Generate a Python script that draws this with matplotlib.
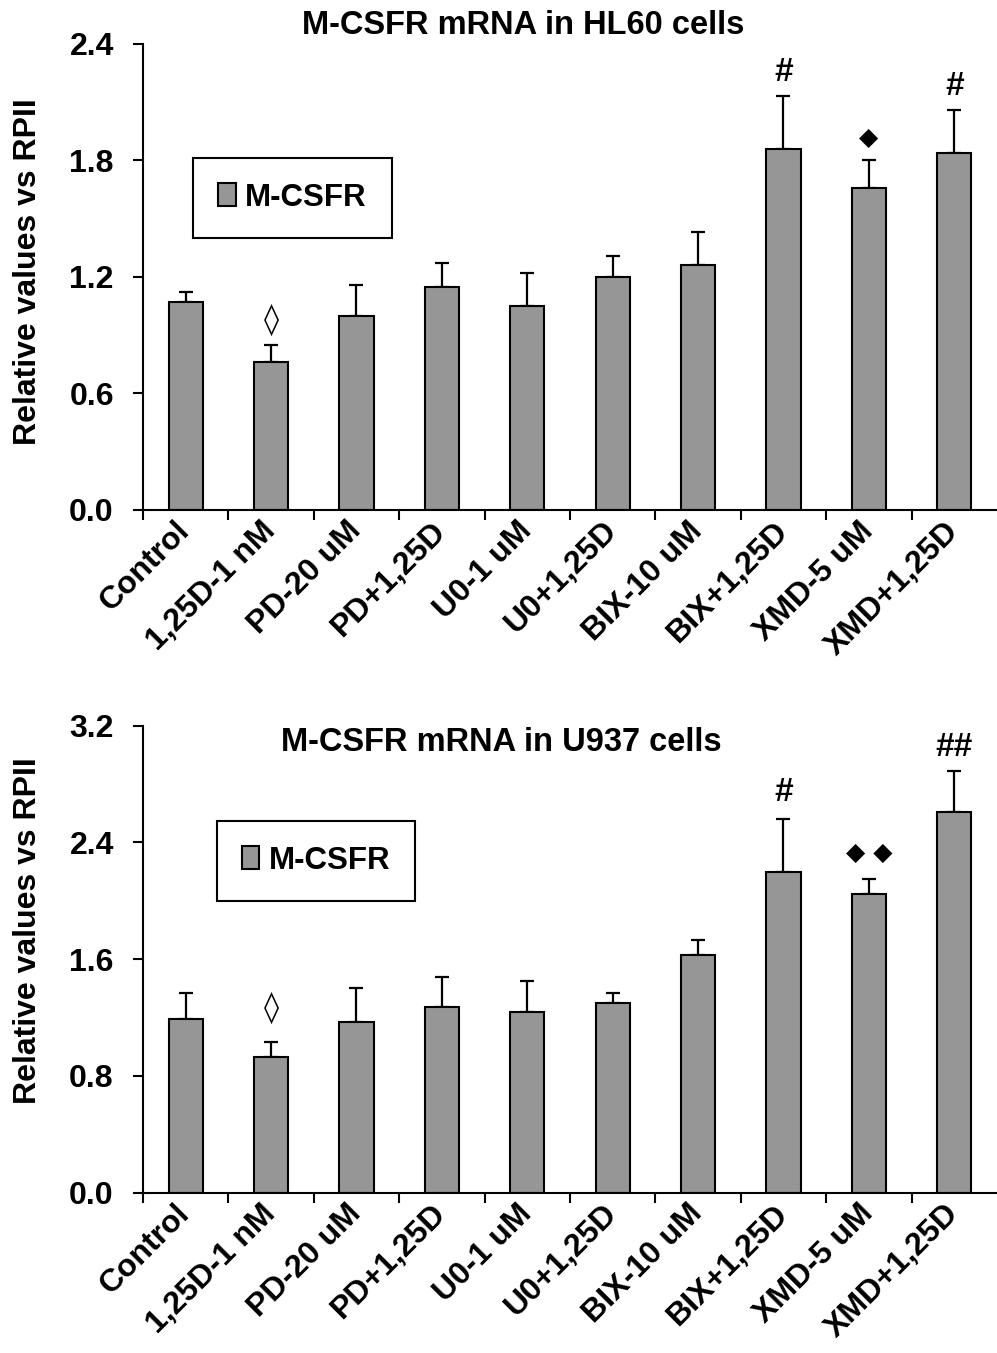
"""
M-CSFR mRNA bar charts for HL60 and U937 cells (relative to RPII).
"""

import numpy as np
import matplotlib
matplotlib.use("Agg")
import matplotlib.pyplot as plt
from matplotlib.patches import Patch

# categories shared by both panels
categories = ["Control", "1,25D-1 nM", "PD-20 uM", "PD+1,25D", "U0-1 uM",
              "U0+1,25D", "BIX-10 uM", "BIX+1,25D", "XMD-5 uM", "XMD+1,25D"]

# HL60 panel
hl60_values = [1.07, 0.76, 1.00, 1.15, 1.05, 1.20, 1.26, 1.86, 1.66, 1.84]
hl60_sem = [0.05, 0.09, 0.16, 0.12, 0.17, 0.11, 0.17, 0.27, 0.14, 0.22]
hl60_marks = ["", "\u25CA", "", "", "", "", "", "#", "\u25C6", "#"]

# U937 panel
u937_values = [1.19, 0.93, 1.17, 1.27, 1.24, 1.30, 1.63, 2.20, 2.05, 2.61]
u937_sem = [0.18, 0.10, 0.23, 0.21, 0.21, 0.07, 0.10, 0.36, 0.10, 0.28]
u937_marks = ["", "\u25CA", "", "", "", "", "", "#", "\u25C6 \u25C6", "##"]

BAR_COLOR = "#969696"
FONT = ["Liberation Sans", "DejaVu Sans"]

plt.rcParams["font.family"] = FONT
plt.rcParams["font.weight"] = "bold"


def draw_panel(ax, values, sem, marks, ymax, step, title, title_x, title_y,
               legend_pos, mark_offsets):
    x = np.arange(len(categories))
    ax.bar(x, values, width=0.4, color=BAR_COLOR, edgecolor="black",
           linewidth=1.5, zorder=2)
    ax.errorbar(x, values, yerr=[np.zeros(len(sem)), sem], fmt="none",
                ecolor="black", elinewidth=1.6, capsize=5, capthick=1.6,
                zorder=1)

    for i, m in enumerate(marks):
        if not m:
            continue
        is_hash = m.startswith("#")
        if is_hash:
            fs = 24
        elif m == "\u25CA":
            fs = 22
        else:
            fs = 18
        ax.annotate(m, (x[i], values[i] + sem[i]), xytext=(0, mark_offsets[i]),
                    textcoords="offset points", ha="center", va="center",
                    fontsize=fs, fontweight="bold" if is_hash else "normal",
                    family=FONT if is_hash else ["DejaVu Sans"])

    ax.set_xlim(-0.5, len(categories) - 0.5)
    ax.set_ylim(0, ymax)
    ticks = np.arange(0, ymax + 1e-9, step)
    ax.set_yticks(ticks)
    ax.set_yticklabels([f"{v:.1f}" for v in ticks], fontsize=23,
                       fontweight="bold")

    # ticks between categories, labels at category centres
    ax.set_xticks(np.arange(-0.5, len(categories) - 0.5, 1.0))
    ax.set_xticklabels([])
    ax.set_xticks(x, minor=True)
    ax.set_xticklabels(categories, minor=True, rotation=45, ha="right",
                       va="center", rotation_mode="anchor", fontsize=23,
                       fontweight="bold")
    ax.tick_params(axis="x", which="minor", length=0, pad=12)
    ax.tick_params(axis="x", which="major", length=7, width=1.5, direction="out")
    ax.tick_params(axis="y", length=7, width=1.5, direction="out", pad=14)

    for side in ["top", "right"]:
        ax.spines[side].set_visible(False)
    for side in ["left", "bottom"]:
        ax.spines[side].set_linewidth(1.5)

    handle = Patch(facecolor=BAR_COLOR, edgecolor="black", linewidth=1.5)
    leg = ax.legend([handle], ["M-CSFR"], loc="center", bbox_to_anchor=legend_pos,
                    fancybox=False, framealpha=1, edgecolor="black",
                    prop={"size": 22.5, "weight": "bold"}, handlelength=0.55,
                    handleheight=0.75, handletextpad=0.3, borderpad=0.8,
                    borderaxespad=0)
    leg.get_frame().set_linewidth(1.5)

    ax.figure.text(title_x, title_y, title, ha="center", va="center",
                   fontsize=23.5, fontweight="bold")


fig = plt.figure(figsize=(9.97, 13.53), dpi=100)

ax1 = fig.add_axes([0.1434, 0.6231, 0.8566, 0.3444])
draw_panel(ax1, hl60_values, hl60_sem, hl60_marks, 2.4, 0.6,
           "M-CSFR mRNA in HL60 cells", 0.525, 0.981, (0.175, 0.670),
           [18, 18, 18, 18, 18, 18, 18, 17, 16, 17])

ax2 = fig.add_axes([0.1434, 0.1185, 0.8566, 0.3451])
draw_panel(ax2, u937_values, u937_sem, u937_marks, 3.2, 0.8,
           "M-CSFR mRNA in U937 cells", 0.503, 0.451, (0.203, 0.711),
           [25, 25, 25, 25, 25, 25, 25, 19, 19, 17])

fig.text(0.028, 1 - 272 / 1353, "Relative values vs RPII", rotation=90,
         ha="center", va="center", fontsize=23, fontweight="bold")
fig.text(0.028, 1 - 931 / 1353, "Relative values vs RPII", rotation=90,
         ha="center", va="center", fontsize=23, fontweight="bold")

fig.savefig("out.png", dpi=100)
